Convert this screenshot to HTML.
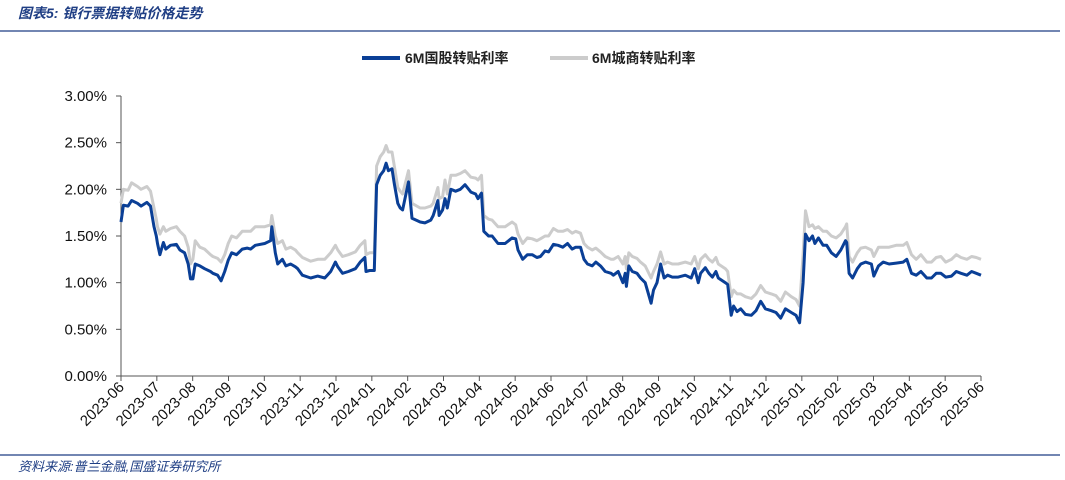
<!DOCTYPE html>
<html><head><meta charset="utf-8"><style>
body{margin:0;background:#fff;}
svg{display:block;font-family:"Liberation Sans","Noto Sans CJK SC",sans-serif;}
</style></head><body>
<svg id="chart" width="1065" height="480">
<text x="18" y="18" font-size="14" font-style="italic" font-weight="bold" fill="#1f3e84">图表5:  银行票据转贴价格走势</text>
<line x1="0" y1="31" x2="1060" y2="31" stroke="#1f3e84" stroke-width="1.2"/>
<line x1="0" y1="455" x2="1060" y2="455" stroke="#1f3e84" stroke-width="1.2"/>
<text x="18" y="471" font-size="13" font-style="italic" fill="#1f3e84">资料来源:普兰金融,国盛证券研究所</text>
<g>
<line x1="362" y1="58" x2="400" y2="58" stroke="#0a3f96" stroke-width="4"/>
<text x="405" y="63" font-size="14" font-weight="bold" fill="#222">6M国股转贴利率</text>
<line x1="550" y1="58" x2="588" y2="58" stroke="#cccccc" stroke-width="4"/>
<text x="592" y="63" font-size="14" font-weight="bold" fill="#222">6M城商转贴利率</text>
</g>
<g id="axes"></g>
<g id="series"></g>
</svg>
<script>
const days=[0,2,6,9,14,17,22,25,28,30,31,33,36,38,42,47,50,54,57,59,61,63,67,71,76,78,82,85,88,91,94,98,103,107,110,114,122,127,128,131,133,137,140,144,148,150,154,161,167,173,178,182,184,188,193,199,203,207,208,211,215,217,220,223,225,227,230,232,235,237,239,244,247,254,258,263,265,269,270,273,275,277,280,284,288,292,297,301,303,306,308,312,315,320,326,332,335,337,341,345,349,353,356,360,363,367,371,375,379,383,386,390,393,396,400,403,407,411,416,418,422,426,428,429,431,434,438,441,445,450,452,455,458,461,464,468,473,479,484,487,490,492,496,499,502,505,507,513,515,518,520,523,526,530,535,539,543,547,552,556,560,564,569,573,576,579,581,584,587,589,592,596,599,603,607,611,615,616,618,621,625,628,632,637,639,643,647,652,658,664,667,671,675,679,684,688,692,696,700,705,709,713,718,722,726,730];
const govRate=[1.65,1.83,1.82,1.88,1.85,1.82,1.86,1.82,1.6,1.5,1.42,1.3,1.43,1.36,1.4,1.41,1.35,1.32,1.2,1.04,1.04,1.2,1.18,1.15,1.12,1.1,1.08,1.02,1.12,1.24,1.32,1.3,1.36,1.37,1.36,1.4,1.42,1.45,1.6,1.32,1.2,1.25,1.18,1.2,1.17,1.15,1.08,1.05,1.07,1.05,1.12,1.22,1.17,1.1,1.12,1.15,1.22,1.27,1.12,1.13,1.13,2.05,2.15,2.2,2.28,2.2,2.22,2.06,1.85,1.8,1.78,2.08,1.69,1.65,1.64,1.67,1.72,1.88,1.72,1.78,1.9,1.8,2.0,1.98,2.0,2.05,1.97,1.95,1.9,1.96,1.55,1.5,1.5,1.42,1.42,1.48,1.47,1.35,1.25,1.3,1.3,1.27,1.28,1.34,1.33,1.41,1.4,1.38,1.42,1.36,1.38,1.38,1.25,1.2,1.18,1.22,1.18,1.12,1.1,1.08,1.12,1.0,1.1,0.96,1.18,1.12,1.1,1.05,1.0,0.78,0.92,1.0,1.2,1.05,1.08,1.06,1.06,1.08,1.05,1.15,1.0,1.1,1.16,1.1,1.06,1.12,1.05,1.0,0.98,0.65,0.75,0.69,0.72,0.66,0.65,0.7,0.8,0.72,0.7,0.68,0.62,0.72,0.68,0.65,0.57,1.0,1.52,1.45,1.5,1.42,1.48,1.4,1.4,1.32,1.28,1.35,1.45,1.43,1.1,1.05,1.15,1.2,1.22,1.2,1.07,1.18,1.22,1.2,1.21,1.22,1.25,1.1,1.08,1.12,1.05,1.05,1.1,1.1,1.06,1.07,1.12,1.1,1.08,1.12,1.1,1.08];
const cityRate=[1.85,2.0,1.99,2.07,2.03,2.0,2.03,1.98,1.8,1.68,1.6,1.52,1.6,1.55,1.58,1.6,1.55,1.5,1.38,1.2,1.25,1.45,1.38,1.36,1.3,1.28,1.26,1.22,1.3,1.42,1.5,1.48,1.55,1.55,1.55,1.6,1.6,1.62,1.72,1.5,1.42,1.45,1.36,1.38,1.35,1.32,1.27,1.23,1.25,1.25,1.32,1.4,1.35,1.28,1.3,1.33,1.4,1.45,1.3,1.32,1.32,2.25,2.35,2.4,2.47,2.4,2.4,2.25,2.02,1.98,1.95,2.2,1.85,1.8,1.8,1.82,1.85,2.02,1.9,1.92,2.1,1.95,2.15,2.15,2.17,2.2,2.13,2.12,2.1,2.15,1.72,1.68,1.67,1.6,1.6,1.65,1.62,1.52,1.42,1.48,1.47,1.45,1.47,1.5,1.5,1.58,1.55,1.55,1.57,1.53,1.55,1.53,1.42,1.38,1.35,1.37,1.33,1.28,1.25,1.25,1.28,1.2,1.28,1.15,1.32,1.28,1.26,1.22,1.18,1.05,1.12,1.2,1.33,1.2,1.22,1.2,1.2,1.22,1.2,1.28,1.15,1.25,1.3,1.25,1.22,1.27,1.2,1.15,1.12,0.85,0.92,0.88,0.88,0.85,0.83,0.88,0.97,0.9,0.88,0.86,0.8,0.9,0.85,0.82,0.75,1.3,1.77,1.6,1.62,1.58,1.6,1.55,1.55,1.5,1.48,1.52,1.6,1.63,1.28,1.22,1.32,1.37,1.38,1.35,1.28,1.38,1.38,1.38,1.4,1.4,1.43,1.3,1.25,1.3,1.22,1.22,1.27,1.28,1.22,1.25,1.3,1.27,1.25,1.28,1.27,1.25];
const yTicks=[0,0.5,1,1.5,2,2.5,3];
const xLabels=["2023-06","2023-07","2023-08","2023-09","2023-10","2023-11","2023-12","2024-01","2024-02","2024-03","2024-04","2024-05","2024-06","2024-07","2024-08","2024-09","2024-10","2024-11","2024-12","2025-01","2025-02","2025-03","2025-04","2025-05","2025-06"];
const X0=121,X1=981,Y0=376,Y1=96;
const xs=d=>X0+d/730*(X1-X0);
const ys=v=>Y0-v/3*(Y0-Y1);
const NS="http://www.w3.org/2000/svg";
const axes=document.getElementById('axes'),ser=document.getElementById('series');
function mk(tag,attrs,parent){const e=document.createElementNS(NS,tag);for(const k in attrs)e.setAttribute(k,attrs[k]);parent.appendChild(e);return e;}
let a=mk('line',{x1:X0,y1:Y1,x2:X0,y2:Y0,stroke:'#555','stroke-width':1},axes);


a=mk('line',{x1:X0,y1:Y0,x2:X1,y2:Y0,stroke:'#555','stroke-width':1},axes);


yTicks.forEach(v=>{const y=ys(v);
 const t=mk('line',{x1:X0-5,y1:y,x2:X0,y2:y,stroke:'#555'},axes);
 
 
 const l=mk('text',{x:X0-14,y:y+5,'text-anchor':'end','font-size':15,fill:'#111'},axes);
 l.textContent=v.toFixed(2)+'%';
 
 
});
xLabels.forEach((s,i)=>{const x=X0+i*(X1-X0)/(xLabels.length-1);
 const t=mk('line',{x1:x,y1:Y0,x2:x,y2:Y0+5,stroke:'#555'},axes);
 
 
 const l=mk('text',{x:x+4,y:Y0+12,'text-anchor':'end','font-size':15,fill:'#111',transform:`rotate(-45 ${x+4} ${Y0+12})`},axes);
 l.textContent=s;
 
 
});
function line(vals,color,name){
 const p=mk('polyline',{points:vals.map((v,i)=>xs(days[i]).toFixed(1)+','+ys(v).toFixed(1)).join(' '),fill:'none',stroke:color,'stroke-width':3,'stroke-linejoin':'round'},ser);
 
 
}
line(cityRate,'#cccccc','city-bank-rate-line');
line(govRate,'#0a3f96','gov-bank-rate-line');
</script>
</body></html>
